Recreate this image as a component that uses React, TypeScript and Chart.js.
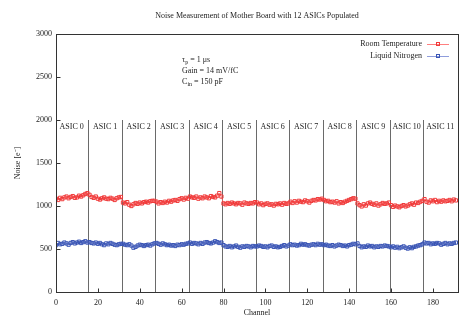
import React, { useEffect, useRef } from "react";
import { Chart, registerables } from "chart.js";

Chart.register(...registerables);

const TITLE = "Noise Measurement of Mother Board with 12 ASICs Populated";
const X_LABEL = "Channel";
const Y_LABEL = "Noise [e\u207B]";
const SERIES_NAMES = ["Room Temperature", "Liquid Nitrogen"];
const ASIC_LABELS = [
  "ASIC 0", "ASIC 1", "ASIC 2", "ASIC 3", "ASIC 4", "ASIC 5",
  "ASIC 6", "ASIC 7", "ASIC 8", "ASIC 9", "ASIC 10", "ASIC 11",
];
const ASIC_BOUNDARIES = [15.5, 31.5, 47.5, 63.5, 79.5, 95.5, 111.5, 127.5, 143.5, 159.5, 175.5];
const ASIC_CENTERS = [7.5, 23.5, 39.5, 55.5, 71.5, 87.5, 103.5, 119.5, 135.5, 151.5, 167.5, 183.5];
const ASIC_LINE_TOP = 2000;
const ASIC_LABEL_Y = 1920;
const X_TICKS = [0, 20, 40, 60, 80, 100, 120, 140, 160, 180];
const Y_TICKS = [0, 500, 1000, 1500, 2000, 2500, 3000];

const ROOM_TEMP = [
  // ASIC 0
  1085, 1070, 1095, 1080, 1100, 1110, 1090, 1105, 1115, 1095, 1100, 1120, 1110, 1125, 1140, 1150,
  // ASIC 1
  1130, 1105, 1095, 1110, 1085, 1075, 1090, 1100, 1085, 1080, 1095, 1085, 1070, 1090, 1100, 1105,
  // ASIC 2
  1040, 1030, 1045, 1015, 1000, 1020, 1035, 1025, 1040, 1030, 1045, 1050, 1040, 1055, 1060, 1060,
  // ASIC 3
  1050, 1030, 1045, 1035, 1050, 1040, 1060, 1050, 1065, 1070, 1060, 1080, 1090, 1075, 1095, 1085,
  // ASIC 4
  1110, 1100, 1095, 1110, 1085, 1100, 1090, 1110, 1100, 1090, 1115, 1105, 1100, 1120, 1150, 1110,
  // ASIC 5
  1030, 1020, 1035, 1025, 1040, 1030, 1020, 1035, 1030, 1015, 1040, 1030, 1025, 1035, 1030, 1045,
  // ASIC 6
  1040, 1020, 1030, 1010, 1025, 1030, 1015, 1020, 1005, 1025, 1020, 1030, 1015, 1035, 1025, 1030,
  // ASIC 7
  1050, 1035, 1055, 1040, 1060, 1050, 1045, 1065, 1055, 1040, 1060, 1070, 1065, 1080, 1075, 1085,
  // ASIC 8
  1070, 1055, 1060, 1045, 1050, 1040, 1055, 1030, 1045, 1035, 1050, 1060, 1070, 1080, 1090, 1085,
  // ASIC 9
  1030, 1010, 995, 1020, 1005, 1030, 1040, 1025, 1015, 1030, 1005, 1020, 1035, 1025, 1030, 1040,
  // ASIC 10
  1010, 990, 1005, 995, 985, 1000, 1010, 995, 1005, 1020, 1030, 1015, 1040, 1035, 1050, 1060,
  // ASIC 11
  1080, 1050, 1040, 1065, 1055, 1070, 1045, 1060, 1050, 1065, 1055, 1060, 1070, 1055, 1075, 1065,
];

const LIQUID_N2 = [
  // ASIC 0
  545, 570, 555, 560, 575, 565, 550, 570, 580, 565, 575, 585, 570, 580, 590, 575,
  // ASIC 1
  580, 570, 565, 575, 560, 570, 555, 545, 565, 555, 570, 560, 550, 545, 555, 560,
  // ASIC 2
  560, 550, 545, 555, 540, 515, 525, 540, 550, 545, 535, 545, 550, 540, 555, 565,
  // ASIC 3
  570, 560, 550, 565, 555, 545, 550, 540, 545, 535, 550, 545, 555, 550, 560, 565,
  // ASIC 4
  575, 560, 570, 565, 555, 570, 560, 575, 580, 570, 565, 575, 590, 580, 570, 575,
  // ASIC 5
  545, 530, 525, 535, 520, 530, 540, 525, 515, 530, 525, 535, 530, 520, 535, 530,
  // ASIC 6
  530, 540, 535, 525, 530, 520, 535, 540, 525, 530, 520, 525, 535, 545, 530, 540,
  // ASIC 7
  555, 545, 550, 540, 545, 560, 550, 555, 545, 540, 550, 555, 545, 560, 550, 555,
  // ASIC 8
  545, 550, 540, 535, 545, 530, 540, 550, 545, 535, 540, 530, 545, 550, 560, 555,
  // ASIC 9
  565, 535, 520, 530, 525, 540, 530, 535, 520, 530, 525, 535, 530, 540, 535, 530,
  // ASIC 10
  520, 530, 515, 525, 510, 520, 530, 515, 505, 520, 510, 525, 530, 540, 545, 555,
  // ASIC 11
  575, 565, 570, 555, 565, 560, 570, 565, 550, 560, 570, 555, 565, 560, 570, 575,
];

const FONT_FAMILY = "'Liberation Serif', 'Times New Roman', serif";
const F = `8px ${FONT_FAMILY}`;
const F_SUB = `6px ${FONT_FAMILY}`;
const TEXT_COLOR = "#222";

const RED_POINT = "#f03a3a";
const RED_LINE = "rgba(255,95,95,0.8)";
const BLUE_POINT = "#3a55b5";
const BLUE_LINE = "rgba(95,115,205,0.7)";

const overlayPlugin = {
  id: "overlay",
  beforeDatasetsDraw(chart: any) {
    const { ctx, scales } = chart;
    const xs = scales.x;
    const ys = scales.y;
    ctx.save();
    ctx.strokeStyle = "#6a6a6a";
    ctx.lineWidth = 1;
    for (const b of ASIC_BOUNDARIES) {
      const px = Math.round(xs.getPixelForValue(b)) + 0.5;
      ctx.beginPath();
      ctx.moveTo(px, ys.getPixelForValue(0));
      ctx.lineTo(px, ys.getPixelForValue(ASIC_LINE_TOP));
      ctx.stroke();
    }
    ctx.restore();
  },
  afterDraw(chart: any) {
    const { ctx, scales, chartArea } = chart;
    const xs = scales.x;
    const ys = scales.y;
    ctx.save();
    // title, centred over the plot area
    ctx.fillStyle = TEXT_COLOR;
    ctx.font = F;
    ctx.textAlign = "center";
    ctx.textBaseline = "middle";
    ctx.fillText(TITLE, (chartArea.left + chartArea.right) / 2, 16);

    // frame
    ctx.strokeStyle = "#333";
    ctx.lineWidth = 1;
    const l = Math.round(chartArea.left) + 0.5;
    const t = Math.round(chartArea.top) + 0.5;
    const r = Math.round(chartArea.right) + 0.5;
    const b = Math.round(chartArea.bottom) + 0.5;
    ctx.strokeRect(l, t, r - l, b - t);
    // inward ticks
    ctx.beginPath();
    for (const v of X_TICKS) {
      const px = Math.round(xs.getPixelForValue(v)) + 0.5;
      ctx.moveTo(px, b);
      ctx.lineTo(px, b - 4);
    }
    for (const v of Y_TICKS) {
      const py = Math.round(ys.getPixelForValue(v)) + 0.5;
      ctx.moveTo(l, py);
      ctx.lineTo(l + 4, py);
    }
    ctx.stroke();

    // ASIC labels
    ctx.fillStyle = TEXT_COLOR;
    ctx.font = F;
    ctx.textAlign = "center";
    ctx.textBaseline = "middle";
    ASIC_LABELS.forEach((lab, i) => {
      ctx.fillText(lab, xs.getPixelForValue(ASIC_CENTERS[i]), ys.getPixelForValue(ASIC_LABEL_Y));
    });

    // legend
    const legendColors = [
      [RED_LINE, RED_POINT],
      [BLUE_LINE, BLUE_POINT],
    ];
    SERIES_NAMES.forEach((name, i) => {
      const y = chartArea.top + 10 + i * 12;
      ctx.font = F;
      ctx.textAlign = "right";
      ctx.fillStyle = TEXT_COLOR;
      ctx.fillText(name, chartArea.right - 36, y);
      ctx.strokeStyle = legendColors[i][0];
      ctx.beginPath();
      ctx.moveTo(chartArea.right - 31, Math.round(y) + 0.5);
      ctx.lineTo(chartArea.right - 9, Math.round(y) + 0.5);
      ctx.stroke();
      ctx.strokeStyle = legendColors[i][1];
      const cx = chartArea.right - 20;
      ctx.strokeRect(Math.round(cx) - 1.5, Math.round(y) - 1.5, 3, 3);
    });

    // annotation
    ctx.textAlign = "left";
    ctx.fillStyle = TEXT_COLOR;
    const ax = xs.getPixelForValue(60.2);
    const drawParts = (parts: [string, boolean][], y: number) => {
      let x = ax;
      for (const [txt, sub] of parts) {
        ctx.font = sub ? F_SUB : F;
        ctx.fillText(txt, x, sub ? y + 2 : y);
        x += ctx.measureText(txt).width;
      }
    };
    drawParts([["\u03C4", false], ["p", true], [" = 1 \u03BCs", false]], chartArea.top + 26);
    drawParts([["Gain = 14 mV/fC", false]], chartArea.top + 37);
    drawParts([["C", false], ["in", true], [" = 150 pF", false]], chartArea.top + 48);
    ctx.restore();
  },
};

export default function App() {
  const canvasRef = useRef<HTMLCanvasElement | null>(null);

  useEffect(() => {
    const canvas = canvasRef.current;
    if (!canvas) return;
    const toPoints = (arr: number[]) => arr.map((v, i) => ({ x: i, y: v }));
    const chart = new Chart(canvas, {
      type: "line",
      data: {
        datasets: [
          {
            label: SERIES_NAMES[0],
            data: toPoints(ROOM_TEMP),
            borderColor: RED_LINE,
            borderWidth: 1,
            pointStyle: "rect",
            pointRadius: 2.3,
            pointBorderWidth: 1,
            pointBorderColor: RED_POINT,
            pointBackgroundColor: "rgba(255,255,255,0)",
            tension: 0,
          },
          {
            label: SERIES_NAMES[1],
            data: toPoints(LIQUID_N2),
            borderColor: BLUE_LINE,
            borderWidth: 1,
            pointStyle: "rect",
            pointRadius: 2.3,
            pointBorderWidth: 1,
            pointBorderColor: BLUE_POINT,
            pointBackgroundColor: "rgba(255,255,255,0)",
            tension: 0,
          },
        ],
      },
      options: {
        animation: false,
        responsive: false,
        devicePixelRatio: 1,
        layout: { padding: { left: 0, top: 34, right: 12, bottom: 0 } },
        plugins: {
          legend: { display: false },
          tooltip: { enabled: false },
          title: { display: false },
        },
        scales: {
          x: {
            type: "linear",
            min: 0,
            max: 192,
            grid: { display: false, drawTicks: false },
            border: { display: false },
            afterBuildTicks: (s: any) => {
              s.ticks = X_TICKS.map((v) => ({ value: v }));
            },
            afterFit: (s: any) => {
              s.height = 38;
            },
            ticks: {
              color: TEXT_COLOR,
              font: { family: FONT_FAMILY, size: 8 },
              padding: 6,
              maxRotation: 0,
              autoSkip: false,
              callback: (v: any) => String(v),
            },
            title: {
              display: true,
              text: X_LABEL,
              color: TEXT_COLOR,
              font: { family: FONT_FAMILY, size: 8 },
              padding: { top: 0, bottom: 12 },
            },
          },
          y: {
            min: 0,
            max: 3000,
            grid: { display: false, drawTicks: false },
            border: { display: false },
            afterBuildTicks: (s: any) => {
              s.ticks = Y_TICKS.map((v) => ({ value: v }));
            },
            afterFit: (s: any) => {
              s.width = 56;
            },
            ticks: {
              color: TEXT_COLOR,
              font: { family: FONT_FAMILY, size: 8 },
              padding: 4,
              autoSkip: false,
              callback: (v: any) => String(v),
            },
            title: {
              display: true,
              text: Y_LABEL,
              color: TEXT_COLOR,
              font: { family: FONT_FAMILY, size: 8 },
              padding: { top: 13, bottom: 0 },
            },
          },
        },
      },
      plugins: [overlayPlugin],
    } as any);
    return () => chart.destroy();
  }, []);

  return (
    <div style={{ position: "absolute", left: 0, top: 0, width: 470, height: 330, background: "#fff" }}>
      <canvas ref={canvasRef} width={470} height={330} style={{ display: "block" }} />
    </div>
  );
}
